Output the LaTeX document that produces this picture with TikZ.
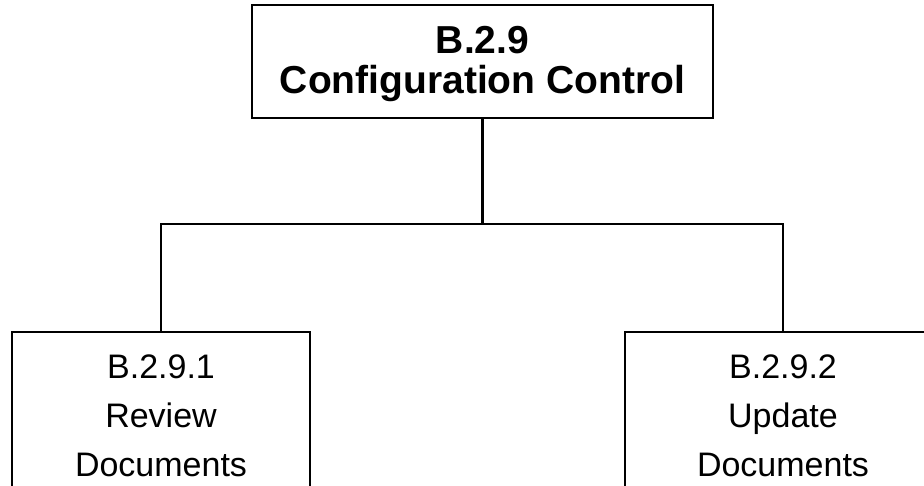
\documentclass[tikz,border=0pt]{standalone}
\usepackage{fontspec}
\setmainfont{Liberation Sans}
\tikzset{
  task/.style={draw, line width=2.2pt, align=center, font=\fontsize{34}{49}\selectfont, inner sep=0pt},
  title/.style={align=center, font=\fontsize{39}{40}\selectfont\bfseries, inner sep=0pt},
  link/.style={line width=2.2pt}
}

\begin{document}
\begin{tikzpicture}[x=1pt, y=-1pt]
        \useasboundingbox (0,0) rectangle (924,486);
        \node[task, minimum width=461pt, minimum height=113pt] (top) at (482.5,61.5) {};
        \node[title] (toptext) at (482.5,64) {B.2.9\\ Configuration Control};
        \node[task, minimum width=298pt, minimum height=168pt] (review) at (161,416) {B.2.9.1\\ Review\\ Documents};
        \node[task, minimum width=316pt, minimum height=168pt] (update) at (783,416) {B.2.9.2\\ Update\\ Documents};
        \coordinate (split) at (top.south |- 0,224);
        \draw[link] (top.south) -- (split);
        \draw[link] (review.north) |- (split) -| (update.north);
      \end{tikzpicture}
\end{document}
